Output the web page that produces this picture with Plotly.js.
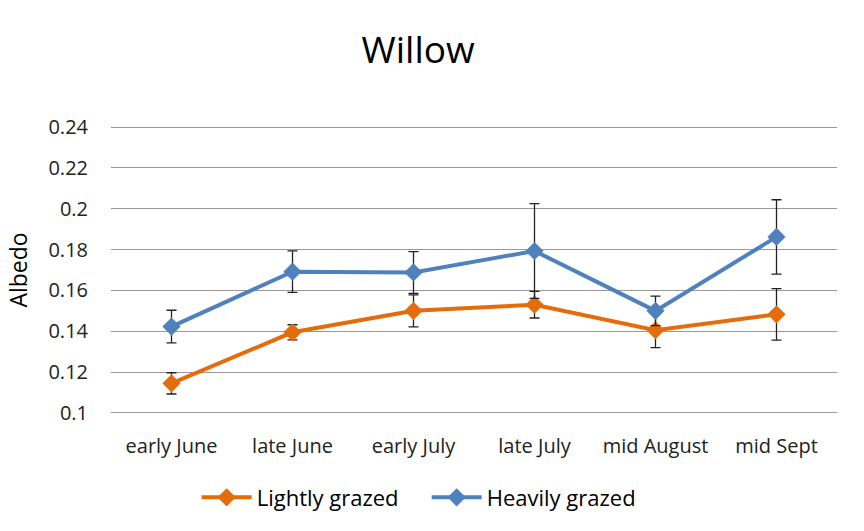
<!DOCTYPE html>
<html>
<head>
<meta charset="utf-8">
<script src="https://cdn.plot.ly/plotly-3.0.1.min.js"></script>
<style>html,body{margin:0;padding:0;background:#fff;}#chart{width:864px;height:531px;}</style>
</head>
<body>
<div id="chart"></div>
<script>
const categories = ["early June", "late June", "early July", "late July", "mid August", "mid Sept"];
const lightlyValues = [0.1145, 0.1395, 0.1500, 0.1530, 0.1405, 0.1483];
const lightlyErrors = [0.0052, 0.0037, 0.0078, 0.0065, 0.0085, 0.0126];
const heavilyValues = [0.1423, 0.1692, 0.1688, 0.1793, 0.1500, 0.1862];
const heavilyErrors = [0.0080, 0.0102, 0.0102, 0.0232, 0.0072, 0.0182];
const yTicks = [0.1, 0.12, 0.14, 0.16, 0.18, 0.2, 0.22, 0.24];
const yTickText = ["0.1", "0.12", "0.14", "0.16", "0.18", "0.2", "0.22", "0.24"];

const font = "Open Sans, Noto Sans, sans-serif";
const orange = "#E46C0A";
const blue = "#4F81BD";

const traces = [
  {
    x: categories, y: lightlyValues, name: "Lightly grazed", type: "scatter", mode: "lines+markers",
    line: {color: orange, width: 4}, marker: {symbol: "diamond", size: 14, color: orange},
    error_y: {type: "data", array: lightlyErrors, visible: true, color: "#222", thickness: 1.3, width: 5}
  },
  {
    x: categories, y: heavilyValues, name: "Heavily grazed", type: "scatter", mode: "lines+markers",
    line: {color: blue, width: 4}, marker: {symbol: "diamond", size: 14, color: blue},
    error_y: {type: "data", array: heavilyErrors, visible: true, color: "#222", thickness: 1.3, width: 5}
  }
];

const layout = {
  width: 864, height: 531,
  paper_bgcolor: "#fff", plot_bgcolor: "#fff",
  margin: {l: 111, r: 27, t: 126, b: 117, autoexpand: false},
  title: {text: "Willow", font: {family: font, size: 37, color: "#000"}, x: 0.484, xanchor: "center", y: 0.905, yanchor: "middle"},
  showlegend: true,
  legend: {orientation: "h", x: 0.118, xanchor: "left", y: -0.29, yanchor: "middle", font: {family: font, size: 22, color: "#000"}, itemwidth: 50, entrywidth: 165, entrywidthmode: "pixels", traceorder: "normal"},
  xaxis: {
    type: "category", range: [-0.5, 5.5], automargin: false, showgrid: false, zeroline: false, showline: false, ticks: "",
    tickfont: {family: font, size: 20, color: "#222"}, ticklabelstandoff: 18
  },
  yaxis: {
    range: [0.0995, 0.2405], automargin: true, tickvals: yTicks, ticktext: yTickText, showgrid: true, gridcolor: "#999", gridwidth: 1,
    zeroline: false, showline: false, ticks: "", tickfont: {family: font, size: 20, color: "#222"},
    ticklabelstandoff: 22,
    title: {text: "Albedo", font: {family: font, size: 23, color: "#000"}, standoff: 14}
  }
};

Plotly.newPlot("chart", traces, layout, {displayModeBar: false, staticPlot: true});
</script>
</body>
</html>
